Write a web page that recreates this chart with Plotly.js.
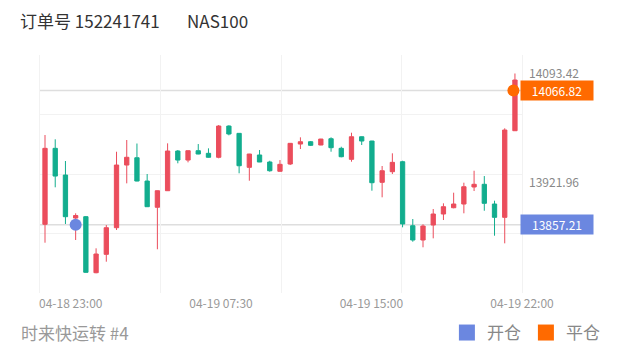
<!DOCTYPE html>
<html>
<head>
<meta charset="utf-8">
<script src="https://cdn.plot.ly/plotly-3.0.1.min.js"></script>
<style>html,body{margin:0;padding:0;background:#fff;}#chart{width:620px;height:352px;}</style>
</head>
<body>
<div id="chart"></div>
<script>
// ---- data ----
const candleIndex = [0,1,2,3,4,5,6,7,8,9,10,11,12,13,14,15,16,17,18,19,20,21,22,23,24,25,26,27,28,29,30,31,32,33,34,35,36,37,38,39,40,41,42,43,44,45,46];
const openP  = [13857.8,13976.5,13934.8,13867.6,13869.7,13782.2,13810.9,13852.5,13950.4,13961.8,13925.4,13884.4,13910.3,13972.3,13958.2,13972.8,13968.7,13962.5,14011.3,13999.9,13946.8,13966.1,13955.1,13940.6,13952.0,13983.2,13986.8,13981.7,13991.5,13976.5,13959.3,13994.6,13987.9,13923.4,13940.0,13955.6,13855.6,13833.3,13856.7,13873.9,13883.7,13889.5,13916.1,13920.3,13889.5,13868.7,14004.0];
const highP  = [13997.3,13990.6,13956.7,13875.0,13870.8,13820.3,13856.7,13971.2,13989.5,13984.0,13936.4,13910.5,13984.3,13973.9,13973.2,13983.2,13976.5,14012.9,14012.5,14000.2,13967.8,13973.9,13957.1,13958.2,13984.5,13993.7,13987.9,13991.3,13993.7,13979.0,14000.9,13995.0,13988.2,13948.9,13968.7,13957.1,13866.1,13857.8,13881.7,13890.6,13907.2,13922.8,13941.5,13933.2,13894.7,14007.8,14093.42];
const lowP   = [13829.1,13915.6,13858.3,13833.3,13782.2,13781.3,13799.4,13848.9,13921.8,13925.0,13885.0,13818.8,13910.0,13953.1,13954.6,13967.3,13962.0,13960.9,13996.8,13937.5,13925.9,13955.0,13940.0,13940.4,13950.4,13975.4,13980.1,13981.4,13971.2,13962.5,13955.6,13981.7,13910.3,13900.0,13936.4,13853.1,13830.6,13821.9,13835.9,13864.5,13882.8,13875.0,13909.8,13879.0,13840.0,13828.1,14003.8];
const closeP = [13976.5,13933.2,13869.7,13871.5,13782.8,13811.4,13852.5,13950.4,13962.5,13925.4,13885.3,13910.3,13972.3,13958.2,13972.8,13967.6,13962.5,14011.3,13998.9,13949.3,13967.6,13955.1,13941.5,13951.5,13984.3,13986.8,13981.2,13991.0,13977.5,13963.4,13994.6,13987.9,13922.8,13941.5,13954.6,13858.3,13833.3,13855.1,13873.9,13885.3,13889.5,13916.5,13920.3,13890.6,13868.7,14005.1,14083.2];

const openTradeX = [3];
const openTradePrice = [13857.21];
const closeTradeX = [45.85];
const closeTradePrice = [14066.82];

const xTickPos = [2.52, 17.23, 31.95, 46.69];
const xTickText = ['04-18 23:00', '04-19 07:30', '04-19 15:00', '04-19 22:00'];
const yLabelVals = [14093.42, 13921.96];

const titleLeft = '订单号 152241741';
const titleRight = 'NAS100';
const footerText = '时来快运转 #4';
const legendNames = ['开仓', '平仓'];

// ---- styles ----
const RED = '#EB4D5C', GREEN = '#12AD8E', BLUE = '#6B87E0', ORANGE = '#FF6A00';
const FONT = '"Noto Sans CJK SC", "Noto Sans", sans-serif';
const xRange = [-0.49, 46.69];
const yRange = [13750.5, 14122.3];
const quarterTicks = [1,2,3].map(k => xRange[0] + (xRange[1]-xRange[0])*k/4);

const traces = [
  {
    type: 'candlestick', x: candleIndex, open: openP, high: highP, low: lowP, close: closeP,
    increasing: {line: {color: RED, width: 1}, fillcolor: RED},
    decreasing: {line: {color: GREEN, width: 1}, fillcolor: GREEN},
    whiskerwidth: 0, showlegend: false, hoverinfo: 'skip'
  },
  {
    type: 'scatter', mode: 'markers', x: openTradeX, y: openTradePrice, xaxis: 'x2', yaxis: 'y2',
    marker: {color: BLUE, size: 12}, showlegend: false, hoverinfo: 'skip'
  },
  {
    type: 'scatter', mode: 'markers', x: closeTradeX, y: closeTradePrice, xaxis: 'x2', yaxis: 'y2',
    marker: {color: ORANGE, size: 12}, showlegend: false, hoverinfo: 'skip'
  },
  {
    type: 'scatter', mode: 'markers', x: [null], y: [null], name: legendNames[0],
    marker: {color: BLUE, size: 16, symbol: 'square'}, hoverinfo: 'skip'
  },
  {
    type: 'scatter', mode: 'markers', x: [null], y: [null], name: legendNames[1],
    marker: {color: ORANGE, size: 16, symbol: 'square'}, hoverinfo: 'skip'
  }
];

function priceBox(price, color) {
  return {
    xref: 'paper', x: 1, xanchor: 'left', xshift: -2,
    yref: 'y', y: price, yanchor: 'middle',
    text: price.toFixed(2), showarrow: false,
    bgcolor: color, font: {color: '#fff', size: 12, family: FONT},
    width: 68, height: 15, borderpad: 2, align: 'center'
  };
}

const layout = {
  width: 620, height: 352,
  margin: {l: 40, r: 98, t: 55, b: 59, autoexpand: false},
  paper_bgcolor: '#fff', plot_bgcolor: '#fff',
  font: {family: FONT},
  boxgap: 0.4,
  showlegend: true,
  legend: {orientation: 'h', x: 1.172, xanchor: 'right', y: -0.168, yanchor: 'middle',
           font: {size: 17, color: '#888', family: FONT}, bgcolor: 'rgba(0,0,0,0)'},
  xaxis: {range: xRange, tickmode: 'array', tickvals: quarterTicks, showticklabels: false,
          showgrid: true, gridcolor: '#f2f2f2', zeroline: false, rangeslider: {visible: false}, fixedrange: true},
  xaxis2: {overlaying: 'x', range: xRange, tickmode: 'array', tickvals: xTickPos, ticktext: xTickText,
           showgrid: false, zeroline: false, tickfont: {size: 12, color: '#999', family: FONT}, side: 'bottom',
           ticklabelstandoff: 2, fixedrange: true},
  yaxis: {range: yRange, tick0: 13842.7, dtick: 93.7, showticklabels: false, gridcolor: '#f2f2f2',
          zeroline: false, showline: true, mirror: true, linecolor: '#f2f2f2', fixedrange: true},
  yaxis2: {overlaying: 'y', side: 'right', range: yRange, tickmode: 'array', tickvals: yLabelVals,
           ticktext: yLabelVals.map(v => v.toFixed(2)), showgrid: false, zeroline: false,
           tickfont: {size: 12, color: '#888', family: FONT}, ticklabelstandoff: 6, fixedrange: true},
  shapes: [
    {type: 'line', xref: 'paper', x0: 0, x1: 1, yref: 'y', y0: closeTradePrice[0], y1: closeTradePrice[0],
     line: {color: '#dedede', width: 1.5}, layer: 'below'},
    {type: 'line', xref: 'paper', x0: 0, x1: 1, yref: 'y', y0: openTradePrice[0], y1: openTradePrice[0],
     line: {color: '#dedede', width: 1.5}, layer: 'below'}
  ],
  annotations: [
    {xref: 'paper', yref: 'paper', x: -0.045, y: 1.143, xanchor: 'left', yanchor: 'middle', showarrow: false,
     text: titleLeft, font: {size: 17, color: '#333', family: FONT}},
    {xref: 'paper', yref: 'paper', x: 0.301, y: 1.143, xanchor: 'left', yanchor: 'middle', showarrow: false,
     text: titleRight, font: {size: 17, color: '#333', family: FONT}},
    {xref: 'paper', yref: 'paper', x: -0.044, y: -0.166, xanchor: 'left', yanchor: 'middle', showarrow: false,
     text: footerText, font: {size: 17, color: '#999', family: FONT}},
    priceBox(closeTradePrice[0], ORANGE),
    priceBox(openTradePrice[0], BLUE)
  ]
};

Plotly.newPlot('chart', traces, layout, {staticPlot: true, displayModeBar: false});
</script>
</body>
</html>
